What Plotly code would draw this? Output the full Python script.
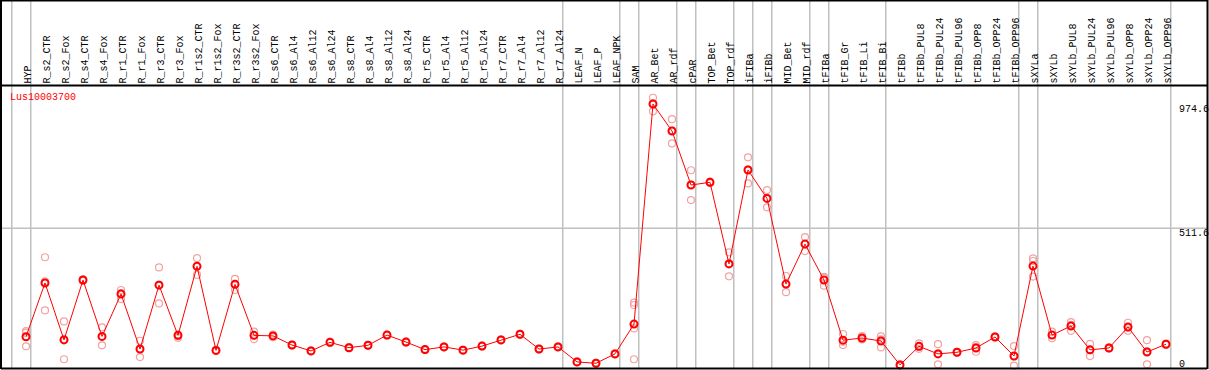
import plotly.graph_objects as go

categories = ["HYP", "R_s2_CTR", "R_s2_Fox", "R_s4_CTR", "R_s4_Fox", "R_r1_CTR", "R_r1_Fox",
              "R_r3_CTR", "R_r3_Fox", "R_r1s2_CTR", "R_r1s2_Fox", "R_r3s2_CTR", "R_r3s2_Fox",
              "R_s6_CTR", "R_s6_Al4", "R_s6_Al12", "R_s6_Al24", "R_s8_CTR", "R_s8_Al4",
              "R_s8_Al12", "R_s8_Al24", "R_r5_CTR", "R_r5_Al4", "R_r5_Al12", "R_r5_Al24",
              "R_r7_CTR", "R_r7_Al4", "R_r7_Al12", "R_r7_Al24", "LEAF_N", "LEAF_P", "LEAF_NPK",
              "SAM", "AR_Bet", "AR_rdf", "cPAR", "TOP_Bet", "TOP_rdf", "iFIBa", "iFIBb",
              "MID_Bet", "MID_rdf", "tFIBa", "tFIB_Gr", "tFIB_Li", "tFIB_Bi", "tFIBb",
              "tFIBb_PUL8", "tFIBb_PUL24", "tFIBb_PUL96", "tFIBb_OPP8", "tFIBb_OPP24",
              "tFIBb_OPP96", "sXYLa", "sXYLb", "sXYLb_PUL8", "sXYLb_PUL24", "sXYLb_PUL96",
              "sXYLb_OPP8", "sXYLb_OPP24", "sXYLb_OPP96"]

mean_values = [108, 308, 96, 319, 109, 267, 62, 300, 113, 370, 57, 303, 113, 111, 77,
               55, 87, 67, 76, 114, 88, 60, 70, 58, 73, 96, 117, 62, 70, 14, 9, 44,
               155, 974.6, 874, 673, 683, 379, 729, 623, 304, 453, 319, 95, 103, 92, 3,
               72, 44, 50, 66, 107, 36, 371, 114, 148, 59, 66, 144, 51, 80]

rep_a = [129, 404, 165, 322, 143, 282, 93, 366, 116, 401, 59, 323, 127, 116, 79,
         57, 89, 69, 78, 116, 90, 62, 72, 60, 75, 98, 119, 64, 72, 16, 11, 46,
         235, 998, 918, 728, 686, 422, 776, 654, 334, 479, 331, 118, 110, 109, 5,
         83, 80, 52, 77, 109, 73, 400, 127, 162, 81, 68, 160, 95, 82]
rep_b = [123, 314, 99, 319, 108, 270, 62, 302, 110, 372, 57, 305, 113, 110, 77,
         55, 87, 67, 76, 114, 88, 60, 70, 58, 73, 96, 117, 62, 70, 14, 9, 44,
         226, 978, 876, 674, 683, 381, 731, 625, 304, 453, 328, 89, 101, 98, 3,
         70, 46, 50, 69, 107, 35, 390, 114, 152, 58, 66, 142, 53, 80]
rep_c = [72, 206, 24, 316, 76, 248, 32, 232, 104, 338, 55, 282, 99, 106, 75,
         53, 85, 65, 74, 112, 86, 58, 68, 56, 71, 94, 115, 60, 68, 12, 7, 42,
         139, 947.5, 828, 617, 680, 333, 679, 590, 274, 427, 298, 77, 98, 68, 1,
         63, 5, 48, 52, 105, 0, 332, 102, 130, 36, 64, 130, 5, 78]
rep_d = [None] * 32 + [24] + [None] * 28

separator_after = [-1, 0, 28, 31, 32, 34, 35, 37, 38, 39, 41, 42, 45, 52, 53, 60]
y_tick_values = [974.6, 511.6, 0]
y_tick_labels = ["974.6", "511.6", "0"]
gene_name = "Lus10003700"

W, H = 1209, 370
FONT = "Liberation Mono"
PINK = "#f2a2a2"
RED = "#ff0000"


def px_x(p):
    return p / W


def px_y(p):
    return 1 - p / H


x_idx = list(range(len(categories)))
x0 = -26 / 19
x1 = (W - 26) / 19
y0 = -4.3 / 0.2685
y1 = 365.7 / 0.2685

fig = go.Figure()

for reps in (rep_a, rep_b, rep_c, rep_d):
    fig.add_trace(go.Scatter(
        x=x_idx, y=reps, mode="markers",
        marker=dict(symbol="circle-open", size=7, color=PINK, line=dict(width=1.2, color=PINK)),
        showlegend=False, hoverinfo="skip"))

fig.add_trace(go.Scatter(
    x=x_idx, y=mean_values, mode="lines+markers",
    line=dict(color=RED, width=1),
    marker=dict(symbol="circle-open", size=7, color=RED, line=dict(width=2, color=RED)),
    showlegend=False, text=categories, hovertemplate="%{text}: %{y}<extra></extra>"))

shapes = []
for s in separator_after:
    shapes.append(dict(type="line", xref="x", yref="paper", x0=s + 0.25, x1=s + 0.25,
                       y0=px_y(368.5), y1=1, line=dict(color="#c0c0c0", width=1.5), layer="below"))
shapes.append(dict(type="line", xref="paper", yref="y", x0=px_x(1), x1=px_x(1207),
                   y0=y_tick_values[1], y1=y_tick_values[1],
                   line=dict(color="#c0c0c0", width=1.5), layer="below"))
for (a, b, c, d) in [(1, 0.5, 1207, 0.5), (1, 85.5, 1207, 85.5), (1, 368.5, 1207, 368.5),
                     (1, 0, 1, 369), (1207.5, 0, 1207.5, 369)]:
    shapes.append(dict(type="line", xref="paper", yref="paper", x0=px_x(a), x1=px_x(c),
                       y0=px_y(b), y1=px_y(d), line=dict(color="black", width=2)))

annotations = []
for i, c in enumerate(categories):
    annotations.append(dict(x=i, xref="x", y=px_y(84.5), yref="paper", text=c,
                            textangle=-90, showarrow=False, xanchor="center", yanchor="bottom",
                            xshift=2,
                            font=dict(family=FONT, size=10, color="black"), borderpad=0))
annotations.append(dict(x=px_x(8.5), xref="paper", y=px_y(97.5), yref="paper", text=gene_name,
                        showarrow=False, xanchor="left", yanchor="middle",
                        font=dict(family=FONT, size=10, color=RED), borderpad=0))
for lab, top in zip(y_tick_labels, [103, 227, 358]):
    annotations.append(dict(x=px_x(1178), xref="paper", y=px_y(top), yref="paper", text=lab,
                            showarrow=False, xanchor="left", yanchor="top",
                            font=dict(family=FONT, size=10, color="black"), borderpad=0))

fig.update_layout(
    width=W, height=H, autosize=False,
    margin=dict(l=0, r=0, t=0, b=0, pad=0),
    paper_bgcolor="white", plot_bgcolor="white",
    xaxis=dict(range=[x0, x1], visible=False, showgrid=False, zeroline=False, fixedrange=True),
    yaxis=dict(range=[y0, y1], visible=False, showgrid=False, zeroline=False, fixedrange=True),
    shapes=shapes, annotations=annotations,
)

fig.write_html(
    "out.html",
    config={"displayModeBar": False},
    post_script="document.documentElement.style.margin='0';document.body.style.margin='0';"
                "document.body.style.padding='0';document.body.style.overflow='hidden';",
)
